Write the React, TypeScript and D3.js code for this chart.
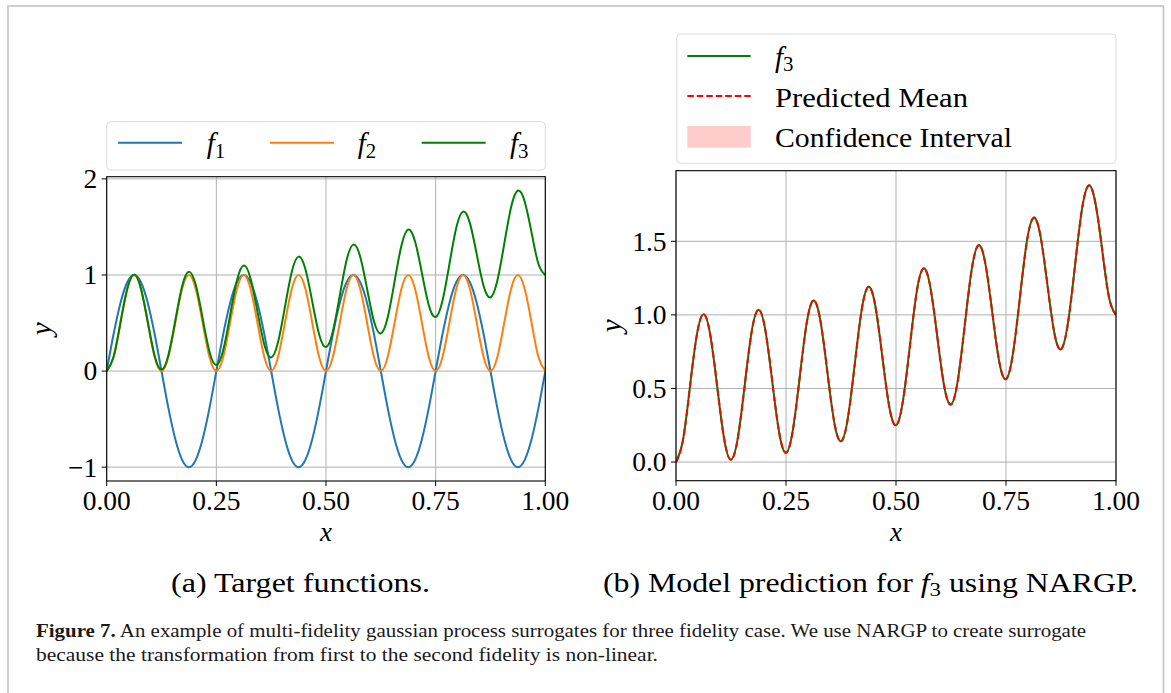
import React from "react";
import * as d3 from "d3";

// ---------- data ----------
const xs = [
  0, 0.0156, 0.0313, 0.0469, 0.0625, 0.0781, 0.0938, 0.1094, 0.125, 0.1406, 0.1563, 0.1719, 0.1875,
  0.2031, 0.2188, 0.2344, 0.25, 0.2656, 0.2813, 0.2969, 0.3125, 0.3281, 0.3438, 0.3594, 0.375, 0.3906,
  0.4063, 0.4219, 0.4375, 0.4531, 0.4688, 0.4844, 0.5, 0.5156, 0.5313, 0.5469, 0.5625, 0.5781, 0.5938,
  0.6094, 0.625, 0.6406, 0.6563, 0.6719, 0.6875, 0.7031, 0.7188, 0.7344, 0.75, 0.7656, 0.7813, 0.7969,
  0.8125, 0.8281, 0.8438, 0.8594, 0.875, 0.8906, 0.9063, 0.9219, 0.9375, 0.9531, 0.9688, 0.9844, 1,
];

const f1 = [
  0, 0.383, 0.707, 0.924, 1, 0.924, 0.707, 0.383, 0, -0.383, -0.707, -0.924, -1, -0.924, -0.707, -0.383,
  0, 0.383, 0.707, 0.924, 1, 0.924, 0.707, 0.383, 0, -0.383, -0.707, -0.924, -1, -0.924, -0.707, -0.383,
  0, 0.383, 0.707, 0.924, 1, 0.924, 0.707, 0.383, 0, -0.383, -0.707, -0.924, -1, -0.924, -0.707, -0.383,
  0, 0.383, 0.707, 0.924, 1, 0.924, 0.707, 0.383, 0, -0.383, -0.707, -0.924, -1, -0.924, -0.707, -0.383,
  0,
];

const f2 = [
  0, 0.146, 0.5, 0.854, 1, 0.854, 0.5, 0.146, 0, 0.146, 0.5, 0.854, 1, 0.854, 0.5, 0.146,
  0, 0.146, 0.5, 0.854, 1, 0.854, 0.5, 0.146, 0, 0.146, 0.5, 0.854, 1, 0.854, 0.5, 0.146,
  0, 0.146, 0.5, 0.854, 1, 0.854, 0.5, 0.146, 0, 0.146, 0.5, 0.854, 1, 0.854, 0.5, 0.146,
  0, 0.146, 0.5, 0.854, 1, 0.854, 0.5, 0.146, 0, 0.146, 0.5, 0.854, 1, 0.854, 0.5, 0.146,
  0,
];

const f3 = [
  0, 0.146, 0.501, 0.856, 1.004, 0.86, 0.509, 0.158, 0.016, 0.166, 0.524, 0.884, 1.035, 0.895, 0.548, 0.201,
  0.063, 0.217, 0.579, 0.942, 1.098, 0.962, 0.618, 0.275, 0.141, 0.299, 0.665, 1.032, 1.191, 1.059, 0.72, 0.381,
  0.25, 0.412, 0.782, 1.153, 1.316, 1.188, 0.853, 0.518, 0.391, 0.557, 0.931, 1.305, 1.473, 1.348, 1.017, 0.686,
  0.563, 0.733, 1.11, 1.489, 1.66, 1.54, 1.212, 0.885, 0.766, 0.94, 1.321, 1.704, 1.879, 1.762, 1.438, 1.115,
  1.0,
];

const predMean = [
  0, 0.146, 0.501, 0.856, 1.004, 0.86, 0.509, 0.158, 0.016, 0.166, 0.524, 0.884, 1.035, 0.895, 0.548, 0.201,
  0.063, 0.217, 0.579, 0.942, 1.098, 0.962, 0.618, 0.275, 0.141, 0.299, 0.665, 1.032, 1.191, 1.059, 0.72, 0.381,
  0.25, 0.412, 0.782, 1.153, 1.316, 1.188, 0.853, 0.518, 0.391, 0.557, 0.931, 1.305, 1.473, 1.348, 1.017, 0.686,
  0.563, 0.733, 1.11, 1.489, 1.66, 1.54, 1.212, 0.885, 0.766, 0.94, 1.321, 1.704, 1.879, 1.762, 1.438, 1.115,
  1.0,
];

const ciHalf = [
  0.031, 0.014, 0.007, 0.005, 0.005, 0.005, 0.005, 0.005, 0.005, 0.005, 0.005, 0.005, 0.005, 0.005, 0.005, 0.005,
  0.005, 0.005, 0.005, 0.005, 0.005, 0.005, 0.005, 0.005, 0.005, 0.005, 0.005, 0.005, 0.005, 0.005, 0.005, 0.005,
  0.005, 0.005, 0.005, 0.005, 0.005, 0.005, 0.005, 0.005, 0.005, 0.005, 0.005, 0.005, 0.005, 0.005, 0.005, 0.005,
  0.005, 0.005, 0.005, 0.005, 0.005, 0.005, 0.005, 0.005, 0.005, 0.005, 0.005, 0.005, 0.005, 0.006, 0.007, 0.009,
  0.012,
];

const xTicks = [0, 0.25, 0.5, 0.75, 1];
const xTickLabels = ["0.00", "0.25", "0.50", "0.75", "1.00"];
const leftYTicks = [-1, 0, 1, 2];
const leftYTickLabels = ["\u22121", "0", "1", "2"];
const rightYTicks = [0, 0.5, 1, 1.5];
const rightYTickLabels = ["0.0", "0.5", "1.0", "1.5"];

const leftSeries = [
  { name: "1", values: f1, color: "#1f77b4" },
  { name: "2", values: f2, color: "#ff7f0e" },
  { name: "3", values: f3, color: "#008000" },
];

const captionLine1Rest =
  " An example of multi-fidelity gaussian process surrogates for three fidelity case. We use NARGP to create surrogate";
const captionLine2 = "because the transformation from first to the second fidelity is non-linear.";

// ---------- layout ----------
const W = 1171;
const H = 693;
const FONT = "'Liberation Serif', 'Times New Roman', serif";
const TICK_FS = 27.5;

const leftBox = { x0: 106.7, x1: 545.3, top: 176.7, bottom: 481 };
const rightBox = { x0: 676, x1: 1116, top: 170.7, bottom: 480.7 };

function padded(ext: [number, number]): [number, number] {
  const span = ext[1] - ext[0];
  return [ext[0] - 0.05 * span, ext[1] + 0.05 * span];
}

function Axes(props: {
  box: { x0: number; x1: number; top: number; bottom: number };
  x: d3.ScaleLinear<number, number>;
  y: d3.ScaleLinear<number, number>;
  yTicks: number[];
  yLabels: string[];
  yLabelX: number;
  children?: React.ReactNode;
}) {
  const { box, x, y, yTicks, yLabels, yLabelX } = props;
  const cx = (box.x0 + box.x1) / 2;
  const cy = (box.top + box.bottom) / 2;
  const clipId = "clip" + Math.round(box.x0);
  return (
    <g>
      <defs>
        <clipPath id={clipId}>
          <rect x={box.x0} y={box.top} width={box.x1 - box.x0} height={box.bottom - box.top} />
        </clipPath>
      </defs>
      {/* grid */}
      {xTicks.map((t) => (
        <line key={"gx" + t} x1={x(t)} x2={x(t)} y1={box.top} y2={box.bottom} stroke="#b0b0b0" strokeWidth={1} />
      ))}
      {yTicks.map((t) => (
        <line key={"gy" + t} x1={box.x0} x2={box.x1} y1={y(t)} y2={y(t)} stroke="#b0b0b0" strokeWidth={1} />
      ))}
      <g clipPath={`url(#${clipId})`}>{props.children}</g>
      {/* spines */}
      <rect
        x={box.x0}
        y={box.top}
        width={box.x1 - box.x0}
        height={box.bottom - box.top}
        fill="none"
        stroke="#000"
        strokeWidth={1.1}
      />
      {/* x ticks */}
      {xTicks.map((t, i) => (
        <g key={"xt" + t}>
          <line x1={x(t)} x2={x(t)} y1={box.bottom} y2={box.bottom + 5} stroke="#000" strokeWidth={1} />
          <text x={x(t)} y={box.bottom + 29} textAnchor="middle" fontFamily={FONT} fontSize={TICK_FS} fill="#000">
            {xTickLabels[i]}
          </text>
        </g>
      ))}
      {/* y ticks */}
      {yTicks.map((t, i) => (
        <g key={"yt" + t}>
          <line x1={box.x0 - 5} x2={box.x0} y1={y(t)} y2={y(t)} stroke="#000" strokeWidth={1} />
          <text
            x={box.x0 - 9.5}
            y={y(t)}
            dy="0.34em"
            textAnchor="end"
            fontFamily={FONT}
            fontSize={TICK_FS}
            fill="#000"
          >
            {yLabels[i]}
          </text>
        </g>
      ))}
      {/* axis labels */}
      <text x={cx} y={box.bottom + 60} textAnchor="middle" fontFamily={FONT} fontStyle="italic" fontSize={27} fill="#000">
        x
      </text>
      <text
        transform={`translate(${yLabelX},${cy}) rotate(-90)`}
        textAnchor="middle"
        fontFamily={FONT}
        fontStyle="italic"
        fontSize={29}
        fill="#000"
      >
        y
      </text>
    </g>
  );
}

function FSub(props: { n: string }) {
  return (
    <>
      <tspan fontStyle="italic">f</tspan>
      <tspan fontSize="0.72em" dy="0.22em">
        {props.n}
      </tspan>
    </>
  );
}

export default function App() {
  // left scales
  const xL = d3.scaleLinear().domain([0, 1]).range([leftBox.x0, leftBox.x1]);
  const allLeft = [...f1, ...f2, ...f3];
  const yL = d3
    .scaleLinear()
    .domain(padded(d3.extent(allLeft) as [number, number]))
    .range([leftBox.bottom, leftBox.top]);

  // right scales
  const ciLower = predMean.map((m, i) => m - ciHalf[i]);
  const ciUpper = predMean.map((m, i) => m + ciHalf[i]);
  const xR = d3.scaleLinear().domain([0, 1]).range([rightBox.x0, rightBox.x1]);
  const yR = d3
    .scaleLinear()
    .domain(padded([d3.min(ciLower) as number, d3.max(ciUpper) as number]))
    .range([rightBox.bottom, rightBox.top]);

  const lineL = d3
    .line<number>()
    .x((_, i) => xL(xs[i]))
    .y((d) => yL(d))
    .curve(d3.curveNatural);
  const lineR = d3
    .line<number>()
    .x((_, i) => xR(xs[i]))
    .y((d) => yR(d))
    .curve(d3.curveNatural);
  const areaR = d3
    .area<number>()
    .x((_, i) => xR(xs[i]))
    .y0((_, i) => yR(ciLower[i]))
    .y1((_, i) => yR(ciUpper[i]))
    .curve(d3.curveNatural);

  const legendLeftItems = [
    { lx: 118, tx: 206.7 },
    { lx: 270, tx: 357.7 },
    { lx: 421.7, tx: 510 },
  ];

  return (
    <svg
      width={W}
      height={H}
      viewBox={`0 0 ${W} ${H}`}
      style={{ position: "absolute", left: 0, top: 0, background: "#fff" }}
    >
      <rect x={0} y={0} width={W} height={H} fill="#fff" />
      {/* figure border */}
      <rect x={8} y={6} width={1155.5} height={720} fill="none" stroke="#c4c4c4" strokeWidth={1.6} />

      {/* ----- left panel ----- */}
      <Axes box={leftBox} x={xL} y={yL} yTicks={leftYTicks} yLabels={leftYTickLabels} yLabelX={50.5}>
        {leftSeries.map((s) => (
          <path key={s.name} d={lineL(s.values) || ""} fill="none" stroke={s.color} strokeWidth={2} />
        ))}
      </Axes>

      {/* left legend */}
      <rect x={106.7} y={121.7} width={438.6} height={48.3} rx={4} fill="#fff" fillOpacity={0.8} stroke="#dcdcdc" strokeWidth={1} />
      {leftSeries.map((s, i) => (
        <g key={"lg" + s.name}>
          <line
            x1={legendLeftItems[i].lx}
            x2={legendLeftItems[i].lx + 64}
            y1={142.7}
            y2={142.7}
            stroke={s.color}
            strokeWidth={2}
          />
          <text x={legendLeftItems[i].tx} y={153} fontFamily={FONT} fontSize={29} fill="#000">
            <FSub n={s.name} />
          </text>
        </g>
      ))}

      {/* ----- right panel ----- */}
      <Axes box={rightBox} x={xR} y={yR} yTicks={rightYTicks} yLabels={rightYTickLabels} yLabelX={621}>
        <path d={areaR(predMean) || ""} fill="#ff0000" fillOpacity={0.2} stroke="none" />
        <path d={lineR(f3) || ""} fill="none" stroke="#008000" strokeWidth={2} />
        <path d={lineR(predMean) || ""} fill="none" stroke="#ff0000" strokeWidth={2} strokeDasharray="6.5,3" />
      </Axes>

      {/* right legend */}
      <rect x={676.7} y={34} width={439.3} height={129.3} rx={4} fill="#fff" fillOpacity={0.8} stroke="#dcdcdc" strokeWidth={1} />
      <line x1={687.3} x2={750.7} y1={56} y2={56} stroke="#008000" strokeWidth={2} />
      <text x={775} y={66.5} fontFamily={FONT} fontSize={29} fill="#000">
        <FSub n="3" />
      </text>
      <line x1={687.3} x2={750.7} y1={96} y2={96} stroke="#ff0000" strokeWidth={2} strokeDasharray="6.5,3" />
      <text x={775} y={106.5} fontFamily={FONT} fontSize={27.5} fill="#000" textLength={193} lengthAdjust="spacingAndGlyphs">
        Predicted Mean
      </text>
      <rect x={687.3} y={126} width={63.4} height={21.7} fill="#ff0000" fillOpacity={0.2} />
      <text x={775} y={146.5} fontFamily={FONT} fontSize={27.5} fill="#000" textLength={237} lengthAdjust="spacingAndGlyphs">
        Confidence Interval
      </text>

      {/* subfigure captions */}
      <text x={171} y={592} fontFamily={FONT} fontSize={27.5} fill="#000" textLength={259} lengthAdjust="spacingAndGlyphs">
        (a) Target functions.
      </text>
      <text x={603} y={592} fontFamily={FONT} fontSize={27.5} fill="#000" textLength={535} lengthAdjust="spacingAndGlyphs">
        (b) Model prediction for <tspan fontStyle="italic">f</tspan>
        <tspan fontSize="0.72em" dy="0.22em">3</tspan>
        <tspan dy="-0.16em"> using NARGP.</tspan>
      </text>

      {/* figure caption */}
      <text x={36} y={637} fontFamily={FONT} fontSize={19} fill="#1a1a1a" textLength={1050} lengthAdjust="spacingAndGlyphs">
        <tspan fontWeight="bold">Figure 7.</tspan>
        {captionLine1Rest}
      </text>
      <text x={36} y={661} fontFamily={FONT} fontSize={19} fill="#1a1a1a" textLength={622} lengthAdjust="spacingAndGlyphs">
        {captionLine2}
      </text>
    </svg>
  );
}
